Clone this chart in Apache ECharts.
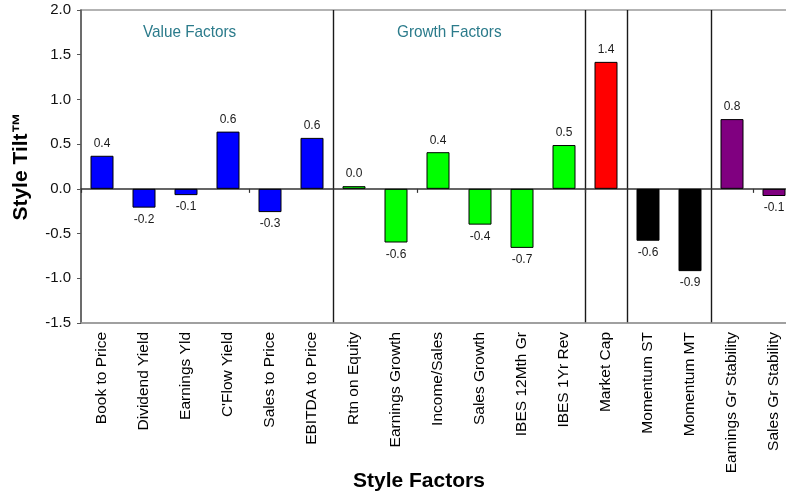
<!DOCTYPE html>
<html>
<head>
<meta charset="utf-8">
<script src="https://cdn.jsdelivr.net/npm/echarts@6/dist/echarts.min.js"></script>
<style>
  html, body { margin: 0; padding: 0; background: #fff; }
  #chart { width: 786px; height: 492px; }
</style>
</head>
<body>
<div id="chart"></div>
<script>
// Style factor names, in drawing order
const factors = [
  'Book to Price', 'Dividend Yield', 'Earnings Yld', "C'Flow Yield", 'Sales to Price', 'EBITDA to Price',
  'Rtn on Equity', 'Earnings Growth', 'Income/Sales', 'Sales Growth', 'IBES 12Mth Gr', 'IBES 1Yr Rev',
  'Market Cap',
  'Momentum ST', 'Momentum MT',
  'Earnings Gr Stability', 'Sales Gr Stability'
];

// Style tilt of each factor
const tilts = [
  0.37, -0.21, -0.07, 0.64, -0.26, 0.57,
  0.03, -0.60, 0.41, -0.40, -0.66, 0.49,
  1.42,
  -0.58, -0.92,
  0.78, -0.08
];

// Factor family of each factor (0 value, 1 growth, 2 size, 3 momentum, 4 stability)
const families = [0, 0, 0, 0, 0, 0, 1, 1, 1, 1, 1, 1, 2, 3, 3, 4, 4];

// Value-axis ticks
const tiltMin = -1.5, tiltMax = 2.0, tiltStep = 0.5;

const familyColors = ['#0000ff', '#00ff00', '#ff0000', '#000000', '#800080'];

// Category boundaries where the factor family changes
const familyBreaks = [];
for (let i = 1; i < families.length; i++) {
  if (families[i] !== families[i - 1]) familyBreaks.push(i);
}

const FONT = '"Liberation Sans", Arial, sans-serif';

const chart = echarts.init(document.getElementById('chart'), null, { renderer: 'canvas' });

chart.setOption({
  animation: false,
  backgroundColor: '#ffffff',
  grid: {
    left: 81, top: 10, width: 714, height: 313,
    containLabel: false,
    outerBoundsMode: 'none',
    show: true, borderColor: '#9a9a9a', borderWidth: 1.5, backgroundColor: 'transparent'
  },
  xAxis: [
    {
      type: 'category',
      data: factors,
      position: 'bottom',
      axisLine: { onZero: false, lineStyle: { color: '#9a9a9a', width: 1.5 } },
      axisTick: { show: false },
      axisLabel: {
        rotate: 90, margin: 9, interval: 0,
        color: '#000', fontFamily: FONT, fontSize: 15.5
      },
      splitLine: {
        show: true,
        interval: (i) => familyBreaks.includes(i),
        lineStyle: { color: '#1a1a1a', width: 1.4 }
      }
    },
    {
      type: 'category',
      data: factors,
      position: 'bottom',
      axisLine: { onZero: true, lineStyle: { color: '#333', width: 1.5 } },
      axisTick: { show: true, length: 4, lineStyle: { color: '#333', width: 1.2 } },
      axisLabel: { show: false },
      splitLine: { show: false }
    }
  ],
  yAxis: {
    type: 'value',
    min: tiltMin, max: tiltMax, interval: tiltStep,
    name: 'Style Tilt™',
    nameLocation: 'middle',
    nameGap: 49,
    nameTextStyle: { fontFamily: FONT, fontWeight: 'bold', fontSize: 21, color: '#000' },
    axisLine: { show: true, lineStyle: { color: '#555', width: 1.5 } },
    axisTick: { show: true, length: 4, lineStyle: { color: '#555' } },
    axisLabel: {
      margin: 10, color: '#111', fontFamily: FONT, fontSize: 15,
      formatter: (v) => v.toFixed(1)
    },
    splitLine: { show: false }
  },
  series: [{
    type: 'bar',
    xAxisIndex: 0,
    barWidth: 23,
    data: tilts.map((v, i) => ({
      value: v,
      itemStyle: { color: familyColors[families[i]] },
      label: { position: v < 0 ? 'bottom' : 'top' }
    })),
    itemStyle: { borderColor: '#000', borderWidth: 1 },
    label: {
      show: true, distance: 6,
      color: '#1a1a1a', fontFamily: FONT, fontSize: 12,
      formatter: (p) => p.value.toFixed(1)
    }
  }],
  graphic: [
    {
      type: 'text', x: 143, y: 24, scaleX: 0.9,
      style: { text: 'Value Factors', fill: '#2b7b8b', font: '17px ' + FONT, verticalAlign: 'top' }
    },
    {
      type: 'text', x: 397, y: 24, scaleX: 0.9,
      style: { text: 'Growth Factors', fill: '#2b7b8b', font: '17px ' + FONT, verticalAlign: 'top' }
    },
    {
      type: 'text', x: 353, y: 471,
      style: { text: 'Style Factors', fill: '#000', font: 'bold 21px ' + FONT, verticalAlign: 'top' }
    }
  ]
});
</script>
</body>
</html>
